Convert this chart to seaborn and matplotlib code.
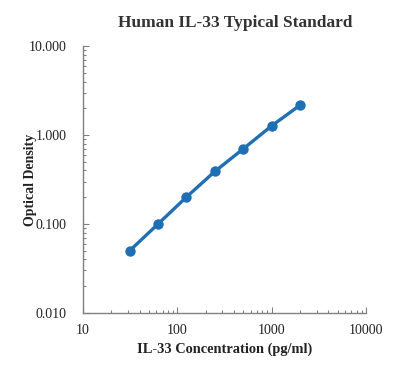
import matplotlib
matplotlib.use("Agg")
import matplotlib.pyplot as plt
import matplotlib.ticker as ticker
import seaborn as sns
import pandas as pd

# Standard curve data
concentration = [31.25, 62.5, 125, 250, 500, 1000, 2000]
optical_density = [0.050, 0.100, 0.201, 0.390, 0.700, 1.270, 2.170]

line_color = "#1f6fb5"
axis_color = "#808080"

sns.set_theme(style="ticks")
plt.rcParams['font.family'] = ['Liberation Serif', 'DejaVu Serif']

df = pd.DataFrame({"conc": concentration, "od": optical_density})

fig = plt.figure(figsize=(4.07, 3.76), dpi=100)
ax = fig.add_axes([0.204, 0.168, 0.695, 0.709])

sns.lineplot(data=df, x="conc", y="od", ax=ax, color=line_color,
             linewidth=2.4, marker="o", markersize=7.5,
             markeredgecolor=line_color, markeredgewidth=0)

ax.set_xscale("log")
ax.set_yscale("log")
ax.set_xlim(10, 10000)
ax.set_ylim(0.01, 10)

ax.xaxis.set_major_locator(ticker.LogLocator(base=10))
ax.xaxis.set_major_formatter(ticker.FuncFormatter(lambda v, p: "%d" % v))
ax.yaxis.set_major_formatter(ticker.FuncFormatter(lambda v, p: "%.3f" % v))
ax.xaxis.set_minor_formatter(ticker.NullFormatter())
ax.yaxis.set_minor_formatter(ticker.NullFormatter())

ax.tick_params(axis="both", which="major", direction="in", length=4,
               width=0.8, color=axis_color, labelsize=10, labelcolor="#222222",
               pad=12)
ax.tick_params(axis="both", which="minor", direction="in", length=2.5,
               width=0.8, color=axis_color)
ax.tick_params(axis="x", which="major", pad=8)

for side in ["top", "right"]:
    ax.spines[side].set_visible(False)
for side in ["left", "bottom"]:
    ax.spines[side].set_color(axis_color)
    ax.spines[side].set_linewidth(1.0)

ax.set_xlabel("IL-33 Concentration (pg/ml)", fontsize=10.4, fontweight="bold",
              color="#222222", labelpad=4)
ax.set_ylabel("Optical Density", fontsize=10, fontweight="bold",
              color="#222222", labelpad=-6)
fig.text(0.577, 0.94, "Human IL-33 Typical Standard", ha="center",
         va="center", fontsize=12.5, fontweight="bold", color="#333333")

fig.savefig("out.png", dpi=100)
